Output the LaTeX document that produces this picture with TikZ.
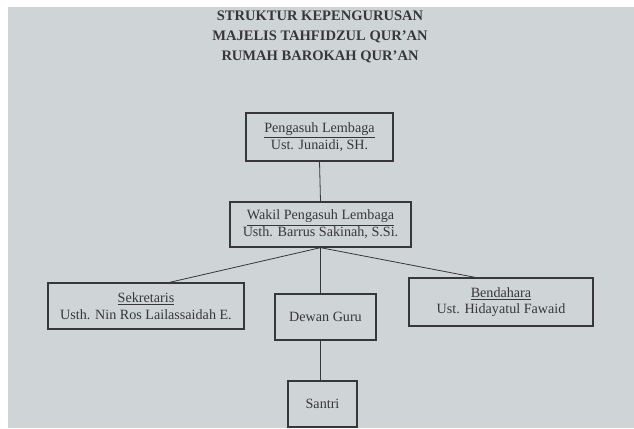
\documentclass[tikz,border=0pt]{standalone}
\usepackage{fontspec}
\setmainfont{Liberation Serif}
\usepackage{tikz}
\usetikzlibrary{calc}

\definecolor{paper}{RGB}{207,212,214}
\definecolor{ink}{RGB}{55,55,58}

\begin{document}
\begin{tikzpicture}[x=0.75pt, y=-0.75pt,
  box/.style={draw=ink, line width=1pt, text=ink, align=center, inner sep=0pt,
    font=\fontsize{10.6}{12.5}\selectfont},
  link/.style={draw=ink, line width=0.6pt}]

\fill[white] (0,0) rectangle (634,428);
\fill[paper] (8,7) rectangle (634,428);
\useasboundingbox (0,0) rectangle (634,428);

\node[text=ink, align=center, font=\bfseries\fontsize{10.9}{15}\selectfont] (title) at (320,37)
  {STRUKTUR KEPENGURUSAN\\MAJELIS TAHFIDZUL QUR'AN\\RUMAH BAROKAH QUR'AN};

\node[box, minimum width=0.75pt*147, minimum height=0.75pt*48] (pengasuh) at (319.5,137)
  {\underline{Pengasuh Lembaga}\\Ust. Junaidi, SH.};
\node[box, minimum width=0.75pt*181, minimum height=0.75pt*45] (wakil) at (320.5,224.5)
  {\underline{Wakil Pengasuh Lembaga}\\Usth. Barrus Sakinah, S.Si.};

\node[box, minimum width=0.75pt*196, minimum height=0.75pt*46] (sekretaris) at (146,306)
  {\underline{Sekretaris}\\Usth. Nin Ros Lailassaidah E.};
\node[box, minimum width=0.75pt*101, minimum height=0.75pt*46] (dewan) at (325.5,317) {Dewan Guru};
\node[box, minimum width=0.75pt*184, minimum height=0.75pt*48] (bendahara) at (501,302)
  {\underline{Bendahara}\\Ust. Hidayatul Fawaid};

\node[box, minimum width=0.75pt*69, minimum height=0.75pt*46] (santri) at (322.5,404) {Santri};

\draw[link] (pengasuh.south) -- (wakil.north);
\draw[link] (wakil.south) -- ($(sekretaris.north west)!0.62!(sekretaris.north east)$);
\draw[link] (wakil.south) -- ($(bendahara.north west)!0.36!(bendahara.north east)$);
\draw[link] (wakil.south) -- (wakil.south |- dewan.north);
\draw[link] (wakil.south |- dewan.south) -- (wakil.south |- santri.north);

\end{tikzpicture}
\end{document}
